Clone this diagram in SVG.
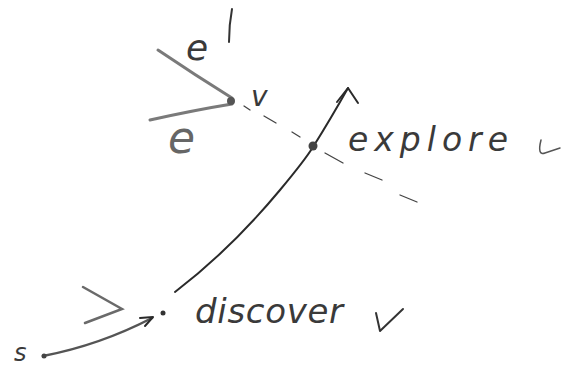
<svg xmlns="http://www.w3.org/2000/svg" width="562" height="369" viewBox="0 0 562 369">
<style>
.t{font-family:"DejaVu Sans",sans-serif;font-style:italic;fill:#3a3a3a}
.ln{fill:none;stroke:#2a2a2a;stroke-width:2;stroke-linecap:round;stroke-linejoin:round}
.gr{fill:none;stroke:#7a7a7a;stroke-width:3;stroke-linecap:round}
.ds{fill:none;stroke:#444;stroke-width:1.3;stroke-linecap:round}
</style>
<rect width="562" height="369" fill="#fff"/>
<g id="connectors">
<path class="gr" d="M158 50 Q195 75 232 98"/>
<path class="gr" d="M150 120 Q195 110 232 104"/>
<path class="ln" d="M175 292 Q230 250 280 190 Q305 160 313 147 Q330 120 348 88"/>
<path class="ln" d="M337 102 L348 88 L358 103"/>
<path class="ds" d="M244 106 L250 110 M264 116 L276 123 M292 132 L300 137 M325 153 L343 163 M365 173 L382 180 M400 195 L417 202"/>
<path class="gr" style="stroke:#555;stroke-width:2.5" d="M43 356 Q100 345 152 318"/>
<path class="ln" d="M140 318 L153 317 L145 326"/>
<path class="gr" style="stroke:#6a6a6a;stroke-width:2.5" d="M83 287 L122 309 L85 323"/>
</g>
<g id="node-v">
<circle cx="231" cy="101" r="4" fill="#555"/>
<text class="t" x="251" y="106" font-size="28">v</text>
</g>
<g id="node-e1">
<text class="t" x="186" y="60" font-size="36">e</text>
<path class="ln" d="M232 9 Q229 25 229 42" style="stroke:#333"/>
</g>
<g id="node-e">
<text class="t" x="168" y="153" font-size="44" style="fill:#666">e</text>
</g>
<g id="node-explore">
<circle cx="313" cy="146" r="4.5" fill="#444"/>
<text class="t" x="348" y="151" font-size="33" textLength="160" lengthAdjust="spacing">explore</text>
<path class="ln" style="stroke:#555;stroke-width:1.5" d="M541 140 Q537 156 545 153 L560 148"/>
</g>
<g id="node-discover">
<circle cx="163" cy="313" r="2.5" fill="#333"/>
<text class="t" x="195" y="323" font-size="34" textLength="148" lengthAdjust="spacing">discover</text>
<path class="ln" style="stroke:#333;stroke-width:2" d="M376 313 L380 331 L403 309"/>
</g>
<g id="node-s">
<text class="t" x="14" y="361" font-size="24">s</text>
<circle cx="44" cy="356" r="2.5" fill="#444"/>
</g>
</svg>
